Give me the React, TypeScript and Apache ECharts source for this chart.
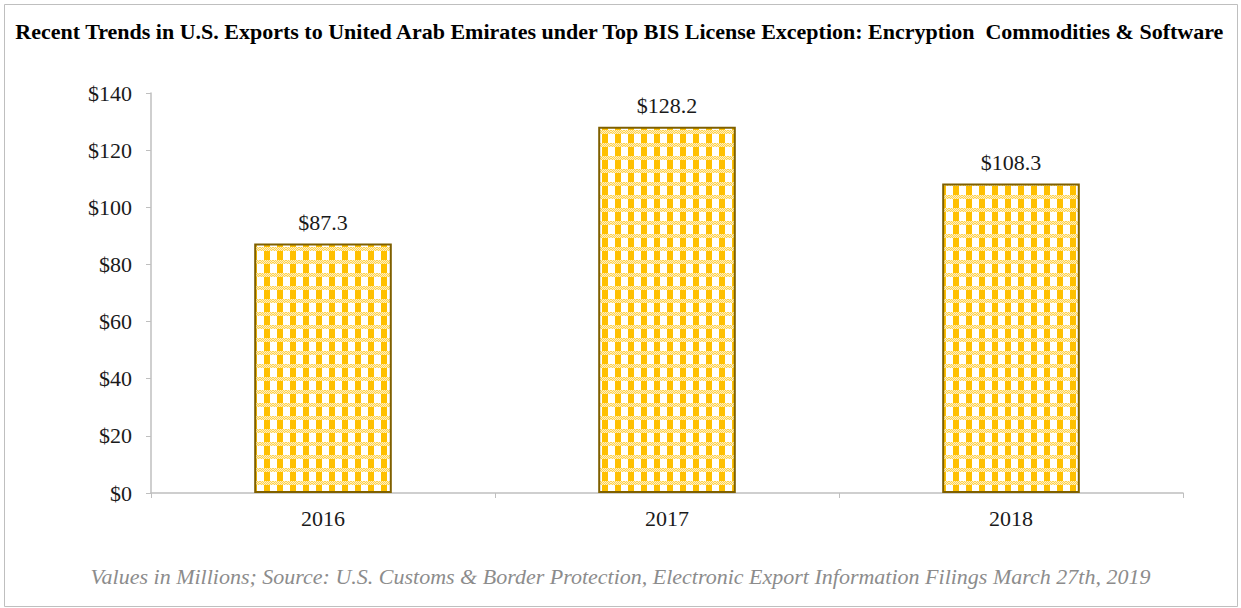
import React, { useEffect, useRef } from "react";
import * as echarts from "echarts";

const TITLE = "Recent Trends in U.S. Exports to United Arab Emirates under Top BIS License Exception: Encryption  Commodities & Software";
const FOOTNOTE = "Values in Millions; Source: U.S. Customs & Border Protection, Electronic Export Information Filings March 27th, 2019";
const categories = ["2016", "2017", "2018"];
const values = [87.3, 128.2, 108.3];
const yTicks = { min: 0, max: 140, interval: 20 };

function makePattern(): HTMLCanvasElement {
  const c = document.createElement("canvas");
  c.width = 13;
  c.height = 13;
  const ctx = c.getContext("2d")!;
  ctx.fillStyle = "#ffffff";
  ctx.fillRect(0, 0, 13, 13);
  ctx.fillStyle = "#FFC000";
  ctx.fillRect(4, 0, 6, 13);
  for (let y = 0; y < 4; y++) {
    for (let x = 0; x < 13; x++) {
      if ((x + y) % 2 === 0) {
        ctx.fillStyle = "#FFD24D";
        ctx.fillRect(x, y, 1, 1);
      } else {
        ctx.fillStyle = "#FFF0C2";
        ctx.fillRect(x, y, 1, 1);
      }
    }
  }
  return c;
}

export default function App() {
  const ref = useRef<HTMLDivElement>(null);
  useEffect(() => {
    if (!ref.current) return;
    const chart = echarts.init(ref.current, null, { renderer: "svg" });
    const font = "'Liberation Serif', 'Times New Roman', serif";
    chart.setOption({
      animation: false,
      backgroundColor: "#ffffff",
      graphic: [
        {
          type: "rect",
          shape: { x: 4.5, y: 4.5, width: 1233, height: 602 },
          style: { fill: "none", stroke: "#bfbfbf", lineWidth: 1 },
          silent: true,
        },
        {
          type: "text",
          left: "center",
          top: 20,
          style: { text: TITLE, font: `bold 22px ${font}`, fill: "#000000" },
        },
        {
          type: "text",
          left: "center",
          top: 565,
          style: { text: FOOTNOTE, font: `italic 22px ${font}`, fill: "#8c8c8c" },
        },
      ],
      grid: { left: 151, right: 58, top: 93, bottom: 115, containLabel: false },
      xAxis: {
        type: "category",
        data: categories,
        axisLine: { lineStyle: { color: "#bfbfbf", width: 1.5 } },
        axisTick: { show: true, length: 5, lineStyle: { color: "#bfbfbf" } },
        axisLabel: { color: "#1a1a1a", fontFamily: font, fontSize: 22, margin: 14 },
      },
      yAxis: {
        type: "value",
        min: yTicks.min,
        max: yTicks.max,
        interval: yTicks.interval,
        splitLine: { show: false },
        axisLine: { show: true, lineStyle: { color: "#bfbfbf", width: 1.5 } },
        axisTick: { show: true, length: 5, lineStyle: { color: "#bfbfbf" } },
        axisLabel: {
          color: "#1a1a1a",
          fontFamily: font,
          fontSize: 22,
          margin: 19,
          formatter: (v: number) => "$" + v,
        },
      },
      series: [
        {
          type: "bar",
          data: values,
          barCategoryGap: "60%",
          itemStyle: {
            color: { image: makePattern(), repeat: "repeat" },
            borderColor: "#7F6000",
            borderWidth: 2,
          },
          label: {
            show: true,
            position: "top",
            distance: 10,
            color: "#1a1a1a",
            fontFamily: font,
            fontSize: 22,
            formatter: (p: any) => "$" + p.value.toFixed(1),
          },
        },
      ],
    });
    return () => chart.dispose();
  }, []);
  return (
    <div
      ref={ref}
      style={{ position: "absolute", left: 0, top: 0, width: 1241, height: 608 }}
    />
  );
}
